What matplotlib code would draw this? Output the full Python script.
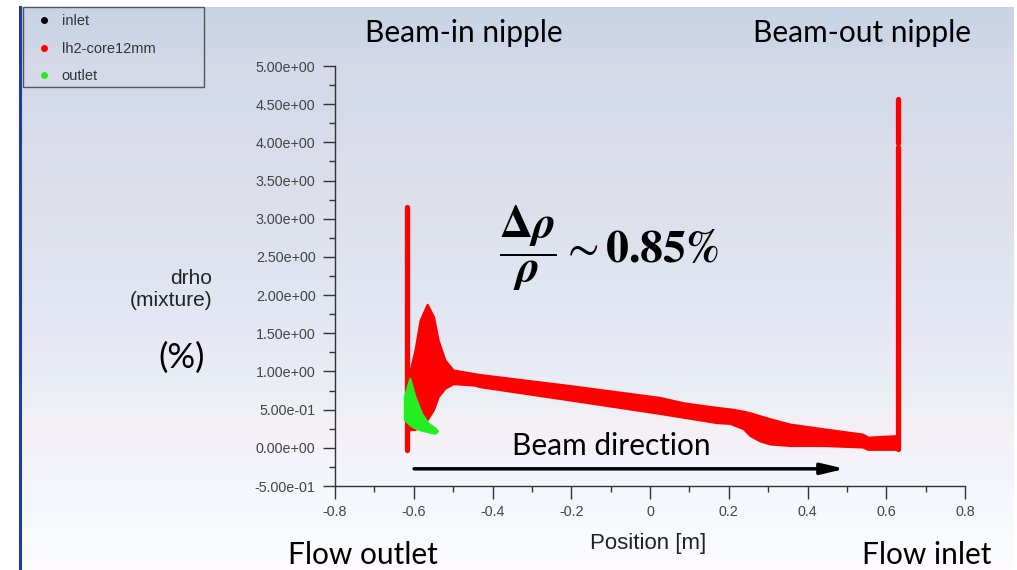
import numpy as np
import matplotlib
matplotlib.use("Agg")
import matplotlib.pyplot as plt
from matplotlib.lines import Line2D
from matplotlib.patches import Rectangle

# ---------------- data ----------------
# red band (lh2-core12mm): x positions with lower / upper envelope of the scatter cloud
core_x = [-0.616, -0.610, -0.597, -0.584, -0.566, -0.550, -0.538, -0.521, -0.500,
          -0.444, -0.432, -0.195, 0.025, 0.085, 0.169, 0.203, 0.237, 0.254, 0.279,
          0.305, 0.356, 0.440, 0.540, 0.553, 0.627]
core_lo = [0.20, 0.24, 0.24, 0.28, 0.37, 0.50, 0.67, 0.78, 0.84,
           0.82, 0.80, 0.62, 0.45, 0.40, 0.33, 0.32, 0.25, 0.16, 0.09,
           0.05, 0.03, 0.03, 0.01, -0.02, -0.02]
core_hi = [1.05, 1.00, 1.28, 1.67, 1.88, 1.72, 1.41, 1.15, 1.02,
           0.97, 0.96, 0.81, 0.66, 0.59, 0.53, 0.51, 0.48, 0.46, 0.42,
           0.38, 0.31, 0.25, 0.18, 0.14, 0.16]
# vertical columns of points at the nipples (x, y_bottom, y_top)
col_x = [-0.616, 0.630, 0.630]
col_lo = [-0.03, -0.01, 3.99]
col_hi = [3.15, 3.94, 4.57]

# green cloud (outlet)
out_x = [-0.624, -0.610, -0.597, -0.580, -0.563, -0.546, -0.540]
out_lo = [0.37, 0.30, 0.26, 0.23, 0.21, 0.19, 0.22]
out_hi = [0.67, 0.91, 0.67, 0.45, 0.32, 0.26, 0.22]

# inlet series (hidden under the red column in the original)
inlet_x = []
inlet_y = []

series_names = ["inlet", "lh2-core12mm", "outlet"]
yticks = [-0.5, 0.0, 0.5, 1.0, 1.5, 2.0, 2.5, 3.0, 3.5, 4.0, 4.5, 5.0]
xticks = [-0.8, -0.6, -0.4, -0.2, 0.0, 0.2, 0.4, 0.6, 0.8]

# ---------------- figure ----------------
W, H = 1017, 570
fig = plt.figure(figsize=(W / 100, H / 100), dpi=100)
fig.patch.set_facecolor("white")

def fx(px):
    return px / W

def fy(py):
    return 1 - py / H

# background gradient (screenshot style)
bg = fig.add_axes([fx(20), 0, fx(1014) - fx(20), fy(7)], zorder=-10)
stops_y = [7, 40, 60, 110, 130, 210, 290, 340, 400, 425, 470, 520, 570]
stops_c = [(0.79, 0.83, 0.90), (0.80, 0.84, 0.90), (0.84, 0.85, 0.91), (0.83, 0.86, 0.92),
           (0.85, 0.86, 0.92), (0.87, 0.88, 0.92), (0.88, 0.90, 0.95), (0.91, 0.91, 0.96),
           (0.92, 0.94, 0.96), (0.96, 0.94, 0.96), (0.96, 0.96, 0.99), (0.96, 0.98, 0.99),
           (0.995, 0.985, 1.0)]
ys = np.arange(7, 571)
grad = np.zeros((len(ys), 1, 3))
for ch in range(3):
    grad[:, 0, ch] = np.interp(ys, stops_y, [c[ch] for c in stops_c])
bg.imshow(grad, aspect="auto", extent=[0, 1, 0, 1], interpolation="bilinear")
bg.axis("off")

# left blue border
fig.add_artist(Line2D([fx(19.5), fx(19.5)], [0, fy(7)], color="#1f3c9a", lw=2.2))

# main axes
ax = fig.add_axes([fx(335), fy(486), fx(965) - fx(335), fy(66) - fy(486)])
ax.set_facecolor("none")
ax.set_xlim(-0.8, 0.8)
ax.set_ylim(-0.5, 5.0)

red = "#ff0000"
green = "#22ee22"
ax.fill_between(core_x, core_lo, core_hi, color=red, lw=1.5, zorder=3)
ax.vlines(col_x, col_lo, col_hi, color=red, lw=3.8, zorder=3, capstyle="round")
ax.fill_between(out_x, out_lo, out_hi, color=green, lw=1.5, zorder=4)
ax.scatter(inlet_x, inlet_y, color="black", s=6, zorder=5)

for s in ["top", "right"]:
    ax.spines[s].set_visible(False)
for s in ["left", "bottom"]:
    ax.spines[s].set_color("#333333")
    ax.spines[s].set_linewidth(1.0)

ax.set_yticks(yticks)
ax.set_yticklabels(["%.2e" % v for v in yticks])
ax.set_yticks(np.arange(-0.25, 5.0, 0.5), minor=True)
ax.set_xticks(xticks)
ax.set_xticklabels(["0" if v == 0 else ("%g" % v) for v in xticks])
ax.set_xticks(np.arange(-0.7, 0.8, 0.2), minor=True)
ax.tick_params(axis="both", which="major", direction="out", length=9, width=1,
               color="#333333", labelcolor="#444444", labelsize=10.3,
               labelfontfamily="Liberation Sans")
ax.tick_params(axis="both", which="minor", direction="out", length=4.5, width=1,
               color="#333333")
ax.tick_params(axis="y", pad=5)
ax.tick_params(axis="x", pad=5)

# arrow "Beam direction"
ax.annotate("", xy=(0.495, -0.275), xytext=(-0.599, -0.275),
            arrowprops=dict(arrowstyle="-|>,head_length=1.4,head_width=0.33",
                            color="black", lw=2.5, shrinkA=0, shrinkB=0), zorder=6)

# legend (frame drawn as a rectangle like the screenshot)
fig.add_artist(Rectangle((fx(22.5), fy(87)), fx(204) - fx(22.5), fy(7) - fy(87),
                         fill=False, edgecolor="#555555", lw=1.0))
handles = [Line2D([], [], marker="o", ls="", color=c, markersize=4)
           for c in ["black", red, green]]
leg = fig.legend(handles, series_names, loc="upper left",
                 bbox_to_anchor=(fx(29), fy(10)), frameon=False,
                 prop={"family": "Liberation Sans", "size": 10.5},
                 labelcolor="#333333", handletextpad=0.55, borderpad=0.3,
                 labelspacing=0.92, handlelength=1.4, borderaxespad=0)

# annotation texts
cal = ["Lato", "DejaVu Sans"]
fs = 21.5
fig.text(fx(464), fy(33), "Beam-in nipple", ha="center", va="center", fontsize=fs,
         family=cal, color="black")
fig.text(fx(862), fy(33), "Beam-out nipple", ha="center", va="center", fontsize=fs,
         family=cal, color="black")
fig.text(fx(363), fy(555), "Flow outlet", ha="center", va="center", fontsize=fs,
         family=cal, color="black")
fig.text(fx(927), fy(555), "Flow inlet", ha="center", va="center", fontsize=fs,
         family=cal, color="black")
fig.text(fx(611), fy(446), "Beam direction", ha="center", va="center", fontsize=fs,
         family=cal, color="black")
fig.text(fx(648), fy(544), "Position [m]", ha="center", va="center", fontsize=16,
         family="Liberation Sans", color="#222222")
fig.text(fx(212), fy(290), "drho\n(mixture)", ha="right", va="center", fontsize=15,
         family="Liberation Sans", color="#222222", linespacing=1.2)
fig.text(fx(182), fy(358), "(%)", ha="center", va="center", fontsize=25,
         family=cal, color="black")

plt.rcParams["mathtext.fontset"] = "stix"
fig.text(fx(609), fy(248),
         r"$\dfrac{\mathbf{\Delta}\boldsymbol{\rho}}{\boldsymbol{\rho}}\sim\mathbf{0.85\%}$",
         ha="center", va="center", fontsize=33, color="black")

fig.savefig("out.png", dpi=100)
